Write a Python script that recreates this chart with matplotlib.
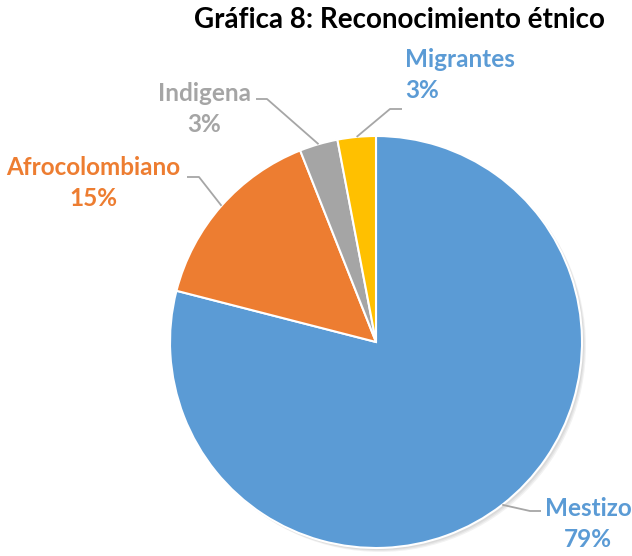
import numpy as np
import matplotlib
matplotlib.use("Agg")
import matplotlib.pyplot as plt

# Reconocimiento étnico, porcentajes del total
labels = ["Mestizo", "Afrocolombiano", "Indigena", "Migrantes"]
values = [79, 15, 3, 3]
colors = ["#5B9BD5", "#ED7D31", "#A5A5A5", "#FFC000"]
label_colors = ["#5B9BD5", "#ED7D31", "#A5A5A5", "#5B9BD5"]

W, H = 632, 556
CX, CY, R = 376, 342, 206   # pie centre / radius in pixels (y down)

# label text centre and elbow of the leader line, pixels (y down)
label_pos = {
    "Mestizo": (588, 524, "center"),
    "Afrocolombiano": (93, 183, "center"),
    "Indigena": (204, 109, "center"),
    "Migrantes": (405, 75, "left"),
}
leader = {
    "Mestizo": [(541, 511), (530, 511)],
    "Afrocolombiano": [(187, 177), (199, 177)],
    "Indigena": [(256, 99), (267, 99)],
    "Migrantes": [(402, 109), (390, 109)],
}

plt.rcParams["font.family"] = ["Lato", "DejaVu Sans"]

fig = plt.figure(figsize=(W / 100, H / 100), dpi=100)
ax = fig.add_axes([0, 0, 1, 1])


def yu(y):
    return H - y


# soft drop shadow behind the pie
for k, a in enumerate([0.05, 0.05, 0.05]):
    ax.add_patch(plt.Circle((CX + 2 + k, yu(CY) - 2 - k), R, color="black",
                            alpha=a, lw=0, zorder=0))

wedges, _ = ax.pie(values, colors=colors, startangle=90, counterclock=False,
                   radius=R, center=(CX, yu(CY)),
                   wedgeprops=dict(edgecolor="white", linewidth=1.5))
for w in wedges:
    w.set_zorder(1)

total = sum(values)
start = 90.0
for name, v, lc in zip(labels, values, label_colors):
    span = 360.0 * v / total
    mid = np.deg2rad(start - span / 2)
    start -= span
    ex, ey = CX + R * np.cos(mid), yu(CY) + R * np.sin(mid)
    pts = leader[name]
    xs = [p[0] for p in pts] + [ex]
    ys = [yu(p[1]) for p in pts] + [ey]
    ax.plot(xs, ys, color="#A6A6A6", lw=1.3, zorder=2, solid_capstyle="butt")

    tx, ty, ha = label_pos[name]
    ax.text(tx, yu(ty), f"{name}\n{v}%", color=lc, fontsize=17.5,
            fontweight="bold", ha=ha, va="center", linespacing=1.4, zorder=3)

ax.text(605, yu(20), "Gráfica 8: Reconocimiento étnico", fontsize=20,
        fontweight="bold", ha="right", va="center", color="black")

ax.set_xlim(0, W)
ax.set_ylim(0, H)
ax.set_aspect("equal")
ax.axis("off")

fig.savefig("out.png", dpi=100)
